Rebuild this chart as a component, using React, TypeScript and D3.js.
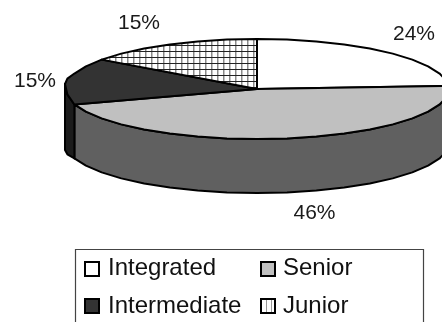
import React from "react";
import * as d3 from "d3";

const categories = ["Integrated", "Senior", "Intermediate", "Junior"];
const shares = [24, 46, 15, 15];
const sliceLabels = ["24%", "46%", "15%", "15%"];
const fills = ["#ffffff", "#c0c0c0", "#333333", "url(#grid)"];
const labelSpots: [number, number][] = [[414, 40], [314.5, 219], [35, 87], [139, 29]];
const legendSpots: [number, number][] = [[85, 275], [261, 275], [85, 313], [261, 313]];
const swatchRise = [13, 13, 14, 14];

const cx = 257;
const cy = 89;
const rx = 192;
const ry = 50;
const depth = 54;
const step = (2 * Math.PI) / 40;
const leftmost = (3 * Math.PI) / 2;

// The rim rises to a slight corner at its far left, and the wall is taller there.
const corner = (a: number) => Math.max(0, 1 - Math.abs(a - leftmost) / (Math.PI / 10));
const px = (a: number) => cx + rx * Math.sin(a);
const py = (a: number) => cy - ry * Math.cos(a) - 5 * corner(a);
const pyBase = (a: number) => py(a) + depth + 12 * corner(a);

// Samples the rim at a fixed angular step, which gives the faceted edge.
function rim(a0: number, a1: number) {
  const out: number[] = [a0];
  const first = Math.ceil(a0 / step) * step;
  for (let a = first; a < a1; a += step) if (a > a0) out.push(a);
  out.push(a1);
  return out;
}

const line = d3.line();

export default function App() {
  const arcs = d3.pie<number>().sort(null)(shares);
  const top = (d: d3.PieArcDatum<number>) =>
    line([[cx, cy], ...rim(d.startAngle, d.endAngle).map((a) => [px(a), py(a)] as [number, number])])! + "Z";
  const wall = (a0: number, a1: number) => {
    const as = rim(a0, a1);
    return (
      line([
        ...as.map((a) => [px(a), py(a)] as [number, number]),
        ...as.slice().reverse().map((a) => [px(a), pyBase(a)] as [number, number]),
      ])! + "Z"
    );
  };
  const [, senior] = arcs;

  return (
    <svg
      width={442}
      height={322}
      style={{ position: "fixed", left: 0, top: 0, display: "block" }}
      fontFamily="'Liberation Sans', Arial, sans-serif"
    >
      <defs>
        <pattern id="grid" width={6} height={6} patternUnits="userSpaceOnUse" x={1} y={3}>
          <rect width={6} height={6} fill="#fff" />
          <path d="M0 0V6" stroke="#8a8a8a" strokeWidth={3} fill="none" />
          <path d="M0 0.5H6" stroke="#222" strokeWidth={1} fill="none" />
        </pattern>
        <pattern id="gridKey" width={5} height={20} patternUnits="userSpaceOnUse" x={1}>
          <rect width={5} height={20} fill="#fff" />
          <path d="M0 0V20" stroke="#333" strokeWidth={1} fill="none" />
        </pattern>
      </defs>

      <g stroke="#000" strokeWidth={2} strokeLinejoin="round">
        <path d={wall(senior.startAngle, senior.endAngle)} fill="#606060" />
        <path d={wall(senior.endAngle, leftmost)} fill="#1c1c1c" />
        {arcs.map((d, i) => (
          <path key={categories[i]} d={top(d)} fill={fills[i]} />
        ))}
      </g>

      <g fontSize={21} fill="#1a1a1a" textAnchor="middle">
        {sliceLabels.map((t, i) => (
          <text key={t + i} x={labelSpots[i][0]} y={labelSpots[i][1]}>
            {t}
          </text>
        ))}
      </g>

      <path d="M75.5 322V249.5H423.5V322" fill="none" stroke="#444" strokeWidth={1.2} />
      <g fontSize={24} fill="#111">
        {categories.map((c, i) => (
          <g key={c}>
            <rect
              x={legendSpots[i][0]}
              y={legendSpots[i][1] - swatchRise[i]}
              width={14}
              height={14}
              fill={i === 3 ? "url(#gridKey)" : fills[i]}
              stroke="#000"
              strokeWidth={2}
            />
            <text x={legendSpots[i][0] + (i % 2 ? 22 : 23)} y={legendSpots[i][1]}>
              {c}
            </text>
          </g>
        ))}
      </g>
    </svg>
  );
}
